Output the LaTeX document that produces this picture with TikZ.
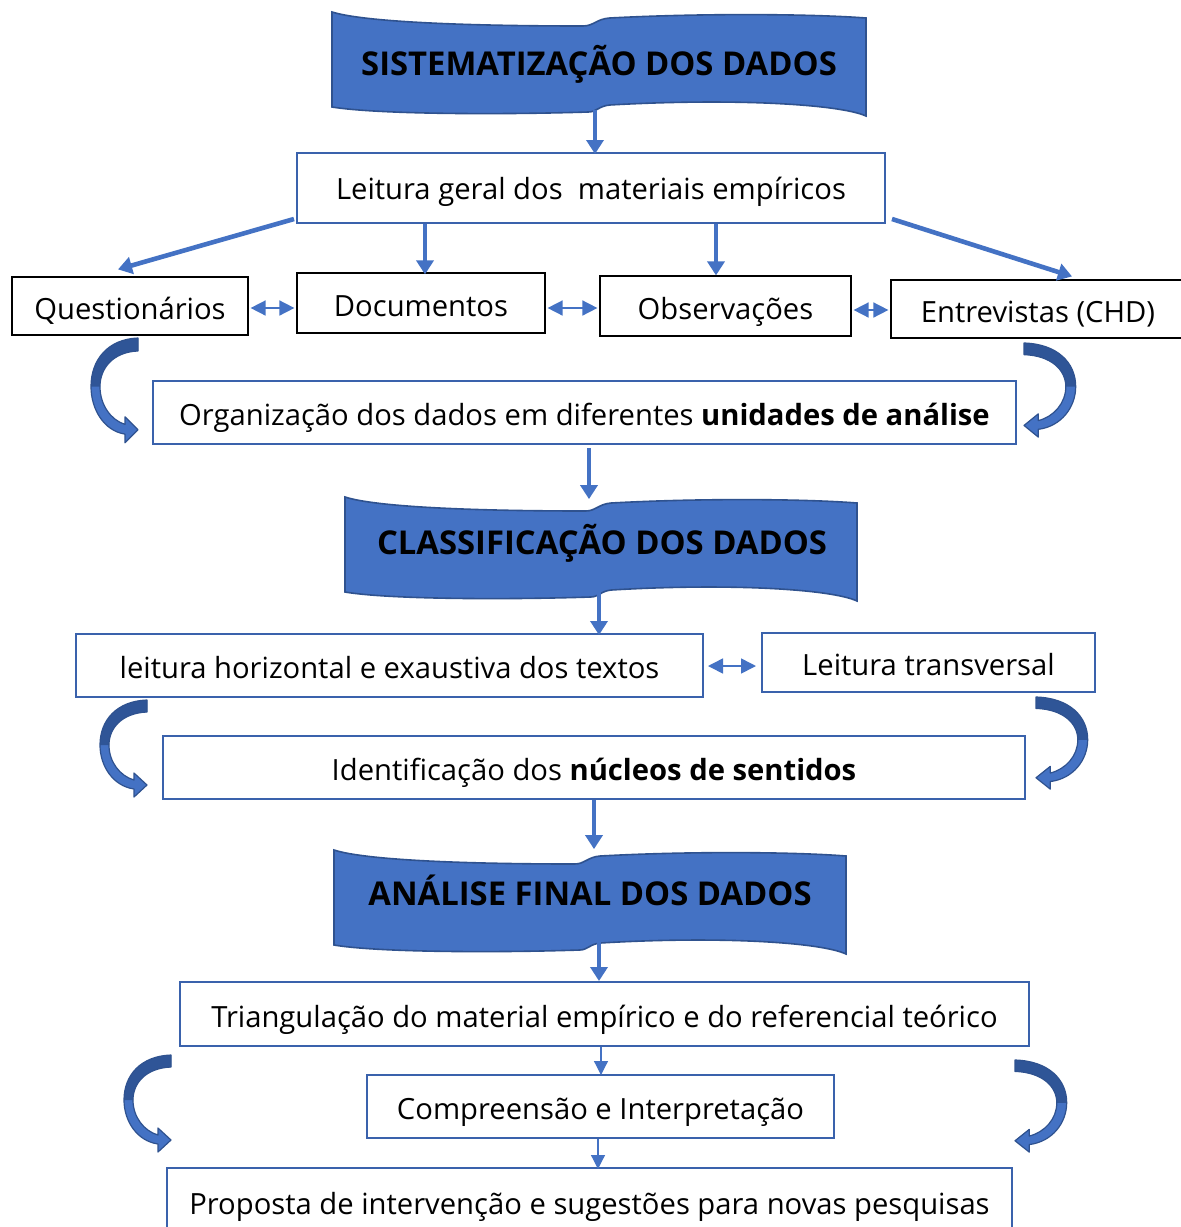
\documentclass[tikz,border=0pt]{standalone}
\usepackage{fontspec}
\setmainfont{Open Sans}
\usetikzlibrary{arrows.meta,calc}
\definecolor{bfill}{HTML}{4472C4}
\definecolor{bdark}{HTML}{2F528F}
\definecolor{bdarktwo}{HTML}{2F5597}
\definecolor{boxblue}{HTML}{3A62AC}
\tikzset{
  bx/.style={draw=boxblue, line width=1pt, fill=white, inner sep=0pt, text height=13.4pt, text depth=0pt, font=\fontsize{14.6}{17}\selectfont},
  kbx/.style={draw=black, line width=0.6pt, fill=white, inner sep=0pt, text height=13.4pt, text depth=0pt, font=\fontsize{14.6}{17}\selectfont},
  bantext/.style={inner sep=0pt, text height=11.7pt, text depth=0pt, font=\fontsize{16.4}{19}\selectfont\bfseries},
  bigarrow/.style={draw=bfill, line width=2.3pt, -{Triangle[width=8.5pt,length=7pt]}},
  thinarrow/.style={draw=bfill, line width=0.6pt, -{Triangle[width=7pt,length=7pt]}},
  dblarrow/.style={draw=bfill, line width=0.8pt, {Triangle[width=7.5pt,length=7.5pt]}-{Triangle[width=7.5pt,length=7.5pt]}},
  banner/.pic={
    \path[fill=bfill, draw=bdark, line width=0.8pt]
      (0,0) .. controls (60,10) and (250,14) .. (470,14)
      .. controls (490,14) and (495,7) .. (520,6)
      .. controls (700,1) and (900,2) .. (1000,6)
      -- (1000,104)
      .. controls (950,92) and (750,86) .. (520,93)
      .. controls (500,94) and (495,100) .. (480,100)
      .. controls (300,103) and (80,102) .. (0,95) -- cycle;
  },
  curv/.pic={
    \fill[bfill] (0,0) -- (0,12) .. controls (-25,13) and (-38,28) .. (-38,45)
      .. controls (-38,62) and (-27,76) .. (-13,80) -- (-13,73) -- (0,85) -- (-13,97) -- (-13,89)
      .. controls (-34,86) and (-47,66) .. (-47,45) .. controls (-47,20) and (-30,1) .. (0,0) -- cycle;
    \fill[bdarktwo] (0,0) -- (0,12) .. controls (-25,13) and (-38,28) .. (-38,45)
      -- (-47,45) .. controls (-47,20) and (-30,1) .. (0,0) -- cycle;
    \draw[bdark, line width=0.6pt, line join=round] (0,0) -- (0,12) .. controls (-25,13) and (-38,28) .. (-38,45)
      .. controls (-38,62) and (-27,76) .. (-13,80) -- (-13,73) -- (0,85) -- (-13,97) -- (-13,89)
      .. controls (-34,86) and (-47,66) .. (-47,45) .. controls (-47,20) and (-30,1) .. (0,0) -- cycle;
  }
}
\begin{document}
\begin{tikzpicture}[x=0.5pt,y=-0.5pt]
\useasboundingbox (0,0) rectangle (1181,1227);
\clip (0,0) rectangle (1181,1227);
\fill[white] (0,0) rectangle (1181,1227);

% boxes
\node[bx, text height=11.4pt, minimum width=294pt, minimum height=35pt] (lg) at (591,188) {Leitura geral dos \ materiais empíricos};
\node[kbx, minimum width=118pt, minimum height=29pt] (q) at (130,306) {Questionários};
\node[kbx, minimum width=124pt, minimum height=30pt] (d) at (421,303) {Documentos};
\node[kbx, minimum width=125.5pt, minimum height=30pt] (o) at (725.5,306) {Observações};
\node[kbx, minimum width=147pt, minimum height=29pt] (e) at (1038,309) {Entrevistas (CHD)};
\node[bx, minimum width=431.5pt, minimum height=31.5pt] (org) at (584.5,412.5) {Organização dos dados em diferentes \textbf{unidades de análise}};
\node[bx, minimum width=313.5pt, minimum height=31.5pt] (lh) at (389.5,665.5) {leitura horizontal e exaustiva dos textos};
\node[bx, minimum width=166.5pt, minimum height=29.5pt] (lt) at (928.5,662.5) {Leitura transversal};
\node[bx, minimum width=431pt, minimum height=31.5pt] (id) at (594,767.5) {Identificação dos \textbf{núcleos de sentidos}};
\node[bx, minimum width=424.5pt, minimum height=32pt] (tr) at (604.5,1014) {Triangulação do material empírico e do referencial teórico};
\node[bx, minimum width=233.5pt, minimum height=31.5pt] (ci) at (600.5,1106.5) {Compreensão e Interpretação};
\node[bx, minimum width=422.5pt, minimum height=33pt] (pr) at (589.5,1201) {Proposta de intervenção e sugestões para novas pesquisas};

% banners
\pic[xscale=0.534] at (332,12) {banner};
\node[bantext, minimum width=267pt, minimum height=47.5pt] (b1) at (599,64) {SISTEMATIZAÇÃO DOS DADOS};
\pic[xscale=0.512] at (345,497) {banner};
\node[bantext, minimum width=256pt, minimum height=47.5pt] (b2) at (602,543) {CLASSIFICAÇÃO DOS DADOS};
\pic[xscale=0.512] at (334,850) {banner};
\node[bantext, minimum width=256pt, minimum height=47.5pt] (b3) at (590,894) {ANÁLISE FINAL DOS DADOS};

% thick arrows
\draw[bigarrow] ($(b1.south)+(-4,-2)$) -- ($(lg.north)+(4,2)$);
\draw[bigarrow] ($(lg.south west)+(-2,-5)$) -- ($(q.north)+(-12,-7)$);
\draw[bigarrow] ($(lg.south)+(-166,0)$) -- ($(d.north)+(4,2)$);
\draw[bigarrow] ($(lg.south)+(125,0)$) -- ($(o.north)+(-9.5,0)$);
\draw[bigarrow] ($(lg.south east)+(6,-5)$) -- ($(e.north)+(34,-3)$);
\draw[bigarrow] ($(org.south)+(4.5,3)$) -- ($(b2.north)+(-13,4)$);
\draw[bigarrow] ($(b2.south)+(-3,-6)$) -- ($(lh.north)+(209.5,2)$);
\draw[bigarrow] ($(id.south)+(0,0)$) -- ($(b3.north)+(4,3)$);
\draw[bigarrow] ($(b3.south)+(9,-10)$) -- ($(tr.north)+(-5.5,0)$);

% thin arrows
\draw[thinarrow] ($(tr.south)+(-3.5,0)$) -- ($(ci.north)+(0.5,1)$);
\draw[thinarrow] ($(ci.south)+(-2.5,0)$) -- ($(pr.north)+(8.5,2)$);

% double arrows
\draw[dblarrow] ($(q.east)+(2,2)$) -- ($(d.west)+(-2,5)$);
\draw[dblarrow] ($(d.east)+(2,5)$) -- ($(o.west)+(-2,2)$);
\draw[dblarrow] ($(o.east)+(2,4)$) -- ($(e.west)+(-2,1)$);
\draw[dblarrow] ($(lh.east)+(4,0.5)$) -- ($(lt.west)+(-5,3.5)$);

% curved arrows
\pic[yscale=1.08] at (138,338) {curv};
\pic at (147,700) {curv};
\pic at (171,1055) {curv};
\pic[xscale=-1.1, yscale=0.97] at (1024,343) {curv};
\pic[xscale=-1.1, yscale=0.95] at (1036,697) {curv};
\pic[xscale=-1.1, yscale=0.95] at (1015,1060) {curv};
\end{tikzpicture}
\end{document}
